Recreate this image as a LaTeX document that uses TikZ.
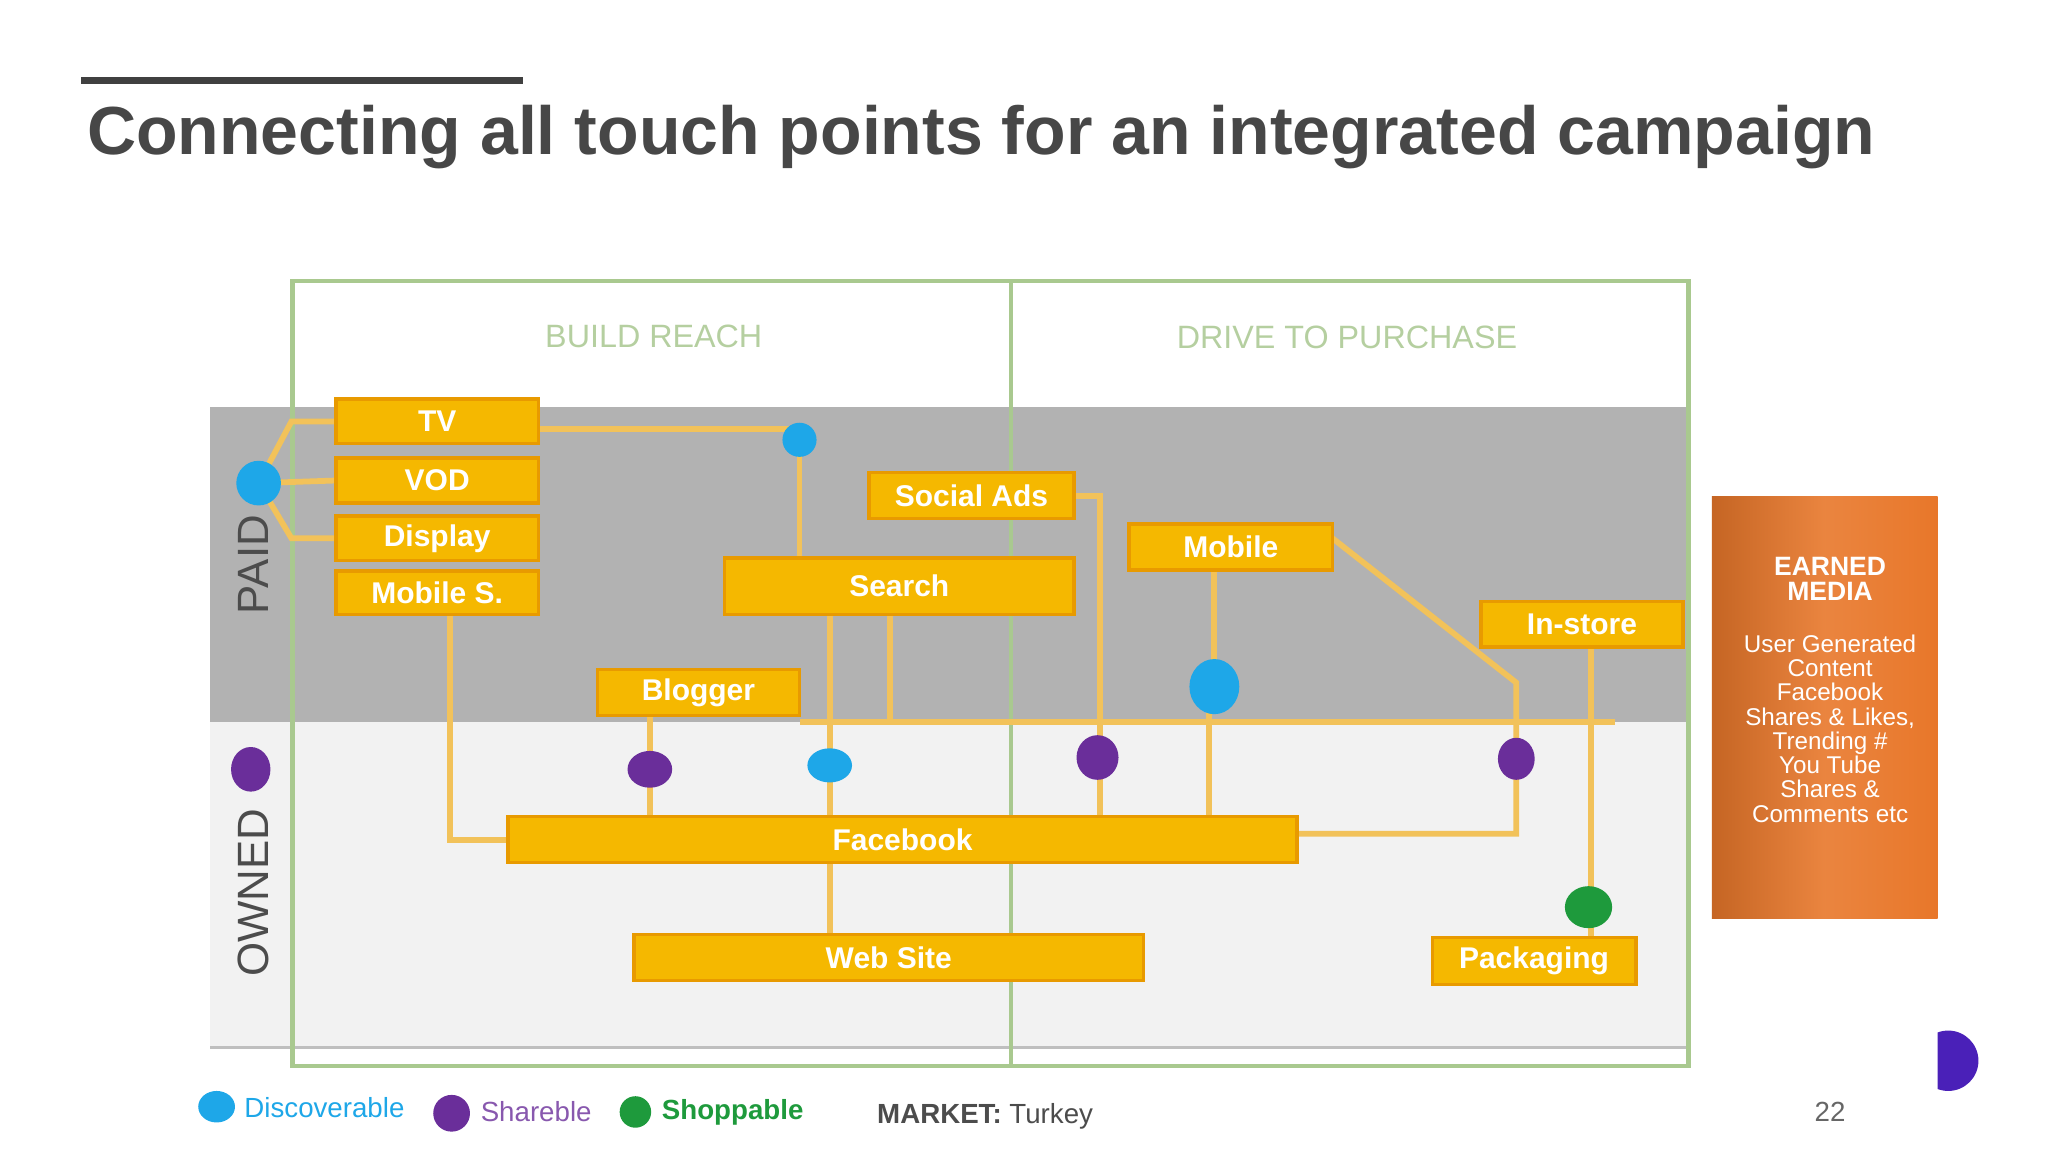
\documentclass[tikz,border=0pt]{standalone}
\usepackage{fontspec}
\setmainfont{Liberation Sans}
\definecolor{ybox}{HTML}{F5B800}
\definecolor{yedge}{HTML}{E89A00}
\definecolor{conn}{HTML}{F2C25A}
\definecolor{gframe}{HTML}{A9C98F}
\definecolor{gtext}{HTML}{B5CFA0}
\definecolor{dblue}{HTML}{1EA7E8}
\definecolor{dpurple}{HTML}{6A2E9A}
\definecolor{dgreen}{HTML}{1E9A3C}
\definecolor{earned}{HTML}{E8772A}
\begin{document}
\begin{tikzpicture}[x=0.02cm,y=-0.02cm,
  con/.style={draw=conn,line width=2.5pt}]
\useasboundingbox (0,0) rectangle (1560,877.5);
% title
\draw[line width=3pt,black!75] (62,61) -- (398,61);
\node[anchor=base west,inner sep=0pt,text=black!72,font=\fontsize{29.5}{33}\selectfont\bfseries] (title) at (66,118) {Connecting all touch points for an integrated campaign};
% bands
\fill[black!30] (160,310) rectangle (1285,550);
\fill[black!5] (160,550) rectangle (1285,798);
\draw[black!25,line width=1.5pt] (160,798) -- (1285,798);
\draw[gframe,line width=2pt] (223,214) rectangle (770,812);
\draw[gframe,line width=2pt] (770,214) rectangle (1286,812);
\node[text=gtext,font=\fontsize{14}{16}\selectfont] (h1) at (498,256) {BUILD REACH};
\node[text=gtext,font=\fontsize{14}{16}\selectfont] (h2) at (1026,257) {DRIVE TO PURCHASE};
\node[rotate=90,text=black!70,font=\fontsize{19}{22}\selectfont] (paid) at (193,430) {PAID};
\node[rotate=90,text=black!70,font=\fontsize{19}{22}\selectfont] (owned) at (193,680) {OWNED};
% connector coordinates
\coordinate (c1) at (609,550); \coordinate (c2) at (1230,550);
\coordinate (k1) at (343,640); \coordinate (k2) at (678,550);
\coordinate (k3) at (838,378); \coordinate (k4) at (1155,520);
\coordinate (k5) at (1155,635); \coordinate (k6) at (609,327);
\coordinate (k7) at (222,321); \coordinate (k8) at (222,410);
% connectors (drawn first)
\draw[con] (c1) -- (c2);
\draw[con] (197,368) -- (k7) -- (256,321);
\draw[con] (197,368) -- (256,366);
\draw[con] (197,368) -- (k8) -- (256,410);
\draw[con] (410,327) -- (k6) -- (609,425);
\draw[con] (343,468) -- (k1) -- (387,640);
\draw[con] (495,545) -- (495,622);
\draw[con] (632,468) -- (632,712);
\draw[con] (k2) -- (678,468);
\draw[con] (818,378) -- (k3) -- (838,622);
\draw[con] (925,434) -- (925,523);
\draw[con] (921,523) -- (921,622);
\draw[con] (1015,410) -- (k4) -- (k5) -- (988,635);
\draw[con] (1212,493) -- (1212,714);
% boxes
\foreach \n/\t/\xa/\ya/\xb/\yb in {tv/TV/256/304/410/338, vod/VOD/256/349/410/383, disp/Display/256/393/410/427, mobs/Mobile S./256/435/410/468, soc/Social Ads/662/360/818/395, srch/Search/552/425/818/468, mob/Mobile/860/399/1015/434, inst/In-store/1128/458/1282/493, blog/Blogger/455/510/609/545, fb/Facebook/387/622/988/657, web/Web Site/483/712/871/747, pack/Packaging/1091/714/1246/750}
  \draw[draw=yedge,line width=1.5pt,fill=ybox] (\xa,\ya) rectangle (\xb,\yb)
    node[midway,text=white,font=\fontsize{13}{15}\selectfont\bfseries] (\n) {\t};
% dots
\fill[dblue] (197,368) circle (17);
\fill[dblue] (609,335) circle (13);
\fill[dblue] (632,583) ellipse (17 and 13);
\fill[dblue] (925,523) ellipse (19 and 21);
\fill[dpurple] (191,586) ellipse (15 and 17);
\fill[dpurple] (495,586) ellipse (17 and 14);
\fill[dpurple] (836,577) ellipse (16 and 17);
\fill[dpurple] (1155,578) ellipse (14 and 16);
\fill[dgreen] (1210,691) ellipse (18 and 16);
% earned media
\shade[left color=earned!85!black,right color=earned,middle color=earned!90!white] (1304,378) rectangle (1476,700);
\node[text=white,align=center,font=\fontsize{11.5}{11}\selectfont\bfseries] (em) at (1394,441) {EARNED\\MEDIA};
\node[text=white,align=center,font=\fontsize{10.5}{10.5}\selectfont] (emt) at (1394,555) {User Generated\\Content\\Facebook\\Shares \& Likes,\\Trending \#\\You Tube\\Shares \&\\Comments etc};
% legend
\fill[dblue] (165,843) ellipse (14 and 12);
\node[anchor=west,text=dblue,font=\fontsize{12}{14}\selectfont] (l1) at (180,844) {Discoverable};
\fill[dpurple] (344,848) circle (14);
\node[anchor=west,text=dpurple!80,font=\fontsize{12}{14}\selectfont] (l2) at (360,847) {Shareble};
\fill[dgreen] (484,847) circle (12);
\node[anchor=west,text=dgreen,font=\fontsize{12}{14}\selectfont\bfseries] (l3) at (498,847) {Shoppable};
\node[anchor=west,text=black!70,font=\fontsize{12}{14}\selectfont] (mk) at (662,850) {\textbf{MARKET:} Turkey};
\node[text=black!60,font=\fontsize{12}{14}\selectfont] (pg) at (1394,847) {22};
% logo
\begin{scope}
\clip (1476,770) rectangle (1520,850);
\fill[dpurple!70!blue] (1484,808) circle (23);
\end{scope}
\end{tikzpicture}
\end{document}
